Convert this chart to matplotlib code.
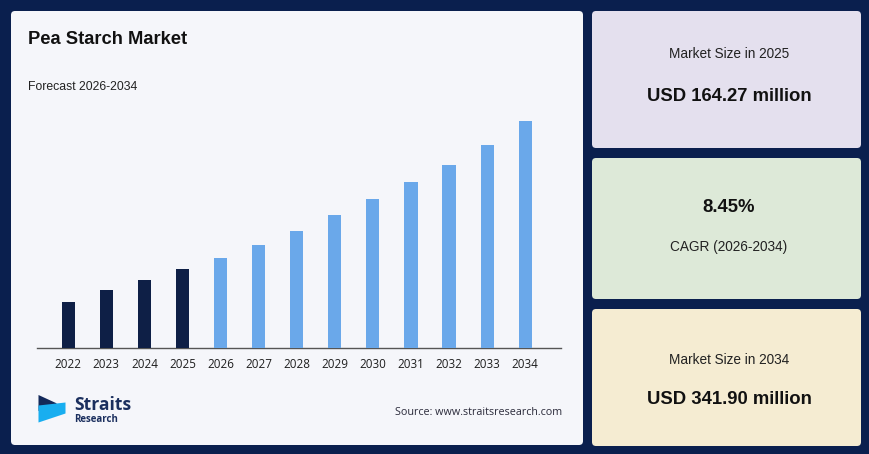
import matplotlib
matplotlib.use("Agg")
import matplotlib.pyplot as plt
from matplotlib.patches import FancyBboxPatch, Polygon

# ---- data ----
years = [2022, 2023, 2024, 2025, 2026, 2027, 2028, 2029, 2030, 2031, 2032, 2033, 2034]
values = [124.9, 139.0, 150.7, 164.27, 177.9, 193.5, 209.6, 228.8, 248.1, 268.9, 289.7, 313.0, 341.9]
last_actual_year = 2025
title = "Pea Starch Market"
subtitle = "Forecast 2026-2034"
source = "Source: www.straitsresearch.com"
card_texts = [
    ("Market Size in 2025", "USD 164.27 million"),
    ("8.45%", "CAGR (2026-2034)"),
    ("Market Size in 2034", "USD 341.90 million"),
]

W, H = 870, 454
BG = "#0a1f4e"
DARK = "#0e1f46"
LIGHT = "#6aa8ea"

fig = plt.figure(figsize=(W / 100, H / 100), dpi=100)
fig.patch.set_facecolor(BG)

# background axes in pixel coordinates
bg = fig.add_axes([0, 0, 1, 1], zorder=0)
bg.set_xlim(0, W)
bg.set_ylim(H, 0)
bg.axis("off")

def panel(x0, y0, x1, y1, color):
    p = FancyBboxPatch((x0, y0), x1 - x0, y1 - y0,
                       boxstyle="round,pad=0,rounding_size=4",
                       facecolor=color, edgecolor="none")
    bg.add_patch(p)

panel(11, 11, 583, 445, "#f5f6fa")
panel(592, 11, 861, 148, "#e4e0ee")
panel(592, 158, 861, 299, "#dde9d8")
panel(592, 309, 861, 446, "#f5ecd2")

SANS = ["Liberation Sans", "DejaVu Sans"]
OPEN = ["Open Sans", "DejaVu Sans"]

bg.text(28, 40, title, fontsize=13.2, fontweight="bold", family=SANS,
        color="#111111", ha="left", va="center")
bg.text(28, 87.5, subtitle, fontsize=8.8, family=SANS,
        color="#222222", ha="left", va="center")
bg.text(562, 412.5, source, fontsize=7.75, family=OPEN,
        color="#2a2a3a", ha="right", va="center")

# logo
bg.add_patch(Polygon([(38.5, 395), (57, 403.5), (38.5, 411)], closed=True,
                     facecolor="#13295a", edgecolor="none"))
bg.add_patch(Polygon([(38.5, 405.5), (65.5, 402.5), (65.5, 413.5), (38.5, 422.5)],
                     closed=True, facecolor="#18aef0", edgecolor="none"))
bg.text(74, 404.5, "Straits", fontsize=12.6, fontweight="bold", family=OPEN,
        color="#1b2f5e", ha="left", va="center")
bg.text(74.5, 419.5, "Research", fontsize=7, fontweight="bold", family=OPEN,
        color="#1b2f5e", ha="left", va="center")

# cards
cx = 729
small, big = 9.8, 13.3
bg.text(cx, 54.5, card_texts[0][0], fontsize=small, family=SANS, color="#222222",
        ha="center", va="center")
bg.text(cx, 96.5, card_texts[0][1], fontsize=big, fontweight="bold", family=SANS,
        color="#111111", ha="center", va="center")
bg.text(cx, 207, card_texts[1][0], fontsize=big, fontweight="bold", family=SANS,
        color="#111111", ha="center", va="center")
bg.text(cx, 247.5, card_texts[1][1], fontsize=small, family=SANS, color="#222222",
        ha="center", va="center")
bg.text(cx, 359.5, card_texts[2][0], fontsize=small, family=SANS, color="#222222",
        ha="center", va="center")
bg.text(cx, 400, card_texts[2][1], fontsize=big, fontweight="bold", family=SANS,
        color="#111111", ha="center", va="center")

# chart axes: x from 37 to 561 px, y from 110 to 348 px
ax_left, ax_right, ax_top, ax_bottom = 37, 561, 110, 348
ax = fig.add_axes([ax_left / W, (H - ax_bottom) / H,
                   (ax_right - ax_left) / W, (ax_bottom - ax_top) / H], zorder=2)
ax.patch.set_alpha(0)
colors = [DARK if y <= last_actual_year else LIGHT for y in years]
xs = list(range(len(years)))
ax.bar(xs, values, width=0.345, color=colors, zorder=3)
ax.set_xlim(-0.82, len(years) - 1 + 0.94)
ax.set_ylim(69.25, 69.25 + 238 * 1.2027)
ax.set_xticks(xs)
ax.set_xticklabels([str(y) for y in years], fontsize=8.4, family=OPEN, color="#1e1e1e")
ax.tick_params(axis="x", length=0, pad=7)
ax.set_yticks([])
for s in ["top", "right", "left"]:
    ax.spines[s].set_visible(False)
ax.spines["bottom"].set_color("#555555")
ax.spines["bottom"].set_linewidth(1.0)

fig.savefig("out.png", dpi=100, facecolor=BG)
